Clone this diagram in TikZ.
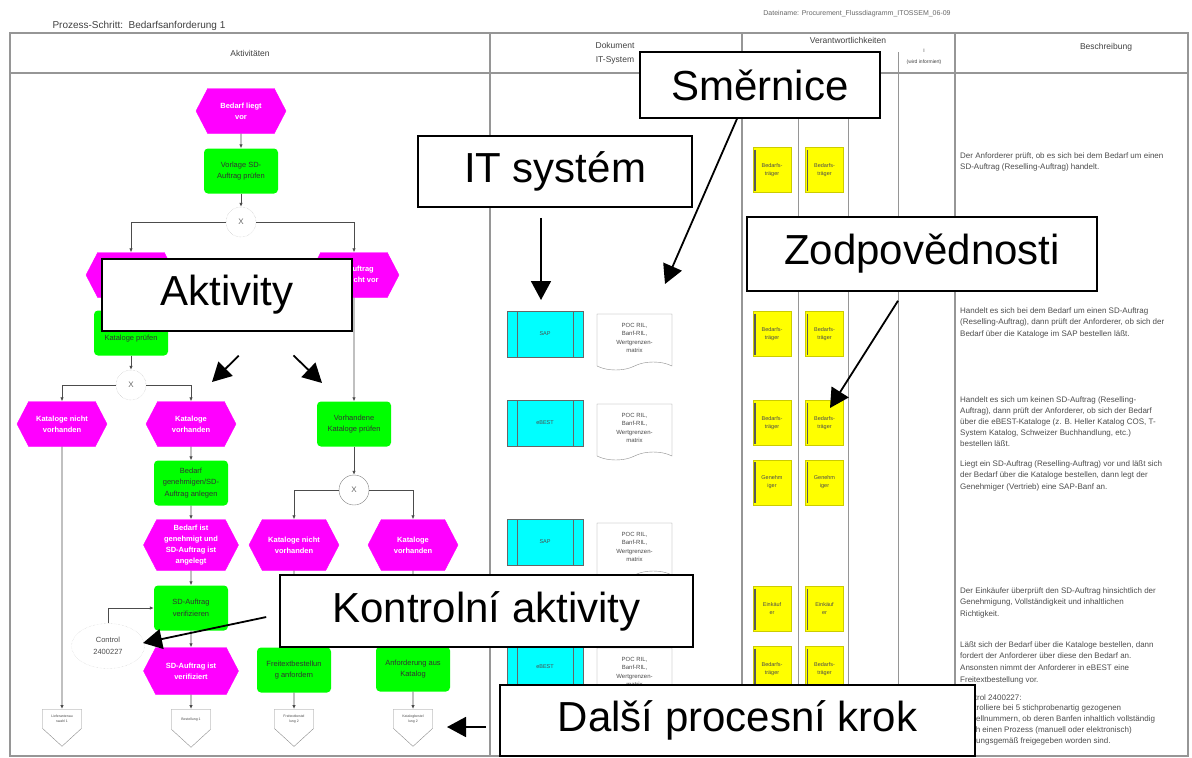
\documentclass[tikz,border=0pt]{standalone}
\usepackage{fontspec}
\setmainfont{Liberation Sans}
\usetikzlibrary{arrows.meta,shapes.symbols,shapes.geometric}

\definecolor{ereignisfarbe}{RGB}{255,0,255}
\definecolor{funktionsfarbe}{RGB}{0,255,0}
\definecolor{systemfarbe}{RGB}{0,255,255}
\definecolor{rollenfarbe}{RGB}{255,255,0}
\definecolor{rahmen}{RGB}{150,150,150}
\definecolor{schrift}{RGB}{50,50,50}

\tikzset{
  ereignis/.style={signal, signal to=east and west, signal pointer angle=125,
    fill=ereignisfarbe, draw=ereignisfarbe, text=white, align=center,
    font=\fontsize{7.5}{11}\selectfont\bfseries, minimum width=90pt,
    minimum height=45pt, inner sep=1pt},
  funktion/.style={rectangle, rounded corners=4pt, fill=funktionsfarbe,
    text=schrift, align=center, font=\fontsize{7.5}{11.5}\selectfont,
    minimum width=74pt, minimum height=45pt, inner sep=1pt},
  xor/.style={circle, draw=black!30, fill=white, minimum size=30pt,
    inner sep=0pt, text=black!60, font=\fontsize{8}{9}\selectfont},
  kontrolle/.style={ellipse, draw=black!20, densely dotted, minimum width=73pt,
    minimum height=45pt, inner sep=0pt, align=center, text=black!70,
    font=\fontsize{7.5}{11.5}\selectfont},
  ende/.style={signal, signal to=south, signal pointer angle=95, draw=black!45,
    fill=white, minimum width=39pt, minimum height=29pt, anchor=north,
    inner sep=0pt, align=center, text=black!70, font=\fontsize{3.5}{5}\selectfont},
  flow/.style={draw=black!70, line width=0.8pt, -{Latex[length=4pt,width=3.5pt]}},
  sysbox/.style={rectangle, fill=systemfarbe, draw=black!60, minimum width=76pt,
    minimum height=46pt, text=black!70, font=\fontsize{5.5}{7}\selectfont,
    path picture={
      \draw[black!60] ([xshift=10pt]path picture bounding box.north west)
        -- ([xshift=10pt]path picture bounding box.south west);
      \draw[black!60] ([xshift=-10pt]path picture bounding box.north east)
        -- ([xshift=-10pt]path picture bounding box.south east);}},
  dokument/.style={tape, tape bend top=none, tape bend bottom=in and out,
    tape bend height=8pt, draw=black!45, fill=white, minimum width=75pt,
    minimum height=56pt, inner sep=1pt, align=center, text=black!70,
    font=\fontsize{6}{8.5}\selectfont},
  rolle/.style={rectangle, fill=rollenfarbe, draw=rollenfarbe!80!black,
    line width=0.4pt, minimum width=38pt, minimum height=45pt, inner sep=1pt,
    align=center, text=black!70, font=\fontsize{5.5}{8}\selectfont,
    path picture={
      \draw[line width=1.2pt, black!65]
        ([xshift=2pt,yshift=-2pt]path picture bounding box.north west)
        -- ([xshift=2pt,yshift=2pt]path picture bounding box.south west);}},
  beschreibung/.style={anchor=north west, inner sep=0pt, align=left,
    text=black!70, font=\fontsize{8}{11.8}\selectfont},
  kopf/.style={text=black!75, font=\fontsize{8.5}{10}\selectfont},
  callout/.style={draw=black, line width=1.6pt, fill=white, inner sep=0pt,
    font=\fontsize{42}{48}\selectfont},
  callpfeil/.style={line width=1.8pt, -{Triangle[width=20pt,length=19pt]}}
}

\begin{document}
\begin{tikzpicture}[x=1pt,y=-1pt]
\useasboundingbox (0,0) rectangle (1192,758);

%Kopfzeile
\node[anchor=west, text=black!75, font=\fontsize{10}{12}\selectfont] (titel) at (49,26) {Prozess-Schritt:\ \ Bedarfsanforderung 1};
\node[text=black!60, font=\fontsize{7}{8}\selectfont] (datei) at (857,14) {Dateiname: Procurement\_Flussdiagramm\_ITOSSEM\_06-09};

%Tabelle
\draw[rahmen, line width=1.3pt] (10,33) rectangle (1188,756);
\draw[rahmen, line width=1.3pt] (10,73) -- (1188,73);
\draw[rahmen, line width=1.3pt] (490,33) -- (490,756);
\draw[rahmen, line width=1.3pt] (742,33) -- (742,756);
\draw[rahmen, line width=1.3pt] (955,33) -- (955,756);
\draw[rahmen, line width=1pt] (798,52) -- (798,756);
\draw[rahmen, line width=1pt] (848,52) -- (848,756);
\draw[rahmen, line width=1pt] (898,52) -- (898,756);

\node[kopf] (hakt) at (250,53) {Aktivitäten};
\node[kopf] (hdok) at (615,45) {Dokument};
\node[kopf] (hit) at (615,60) {IT-System};
\node[kopf] (hver) at (848,40) {Verantwortlichkeiten};
\node[kopf, font=\fontsize{5}{6}\selectfont] (hi) at (924,51) {I};
\node[kopf, font=\fontsize{5}{6}\selectfont] (hinf) at (924,62) {(wird informiert)};
\node[kopf] (hbes) at (1106,47) {Beschreibung};

%Ereignisse und Funktionen
\node[ereignis] (bedarf) at (241,111) {Bedarf liegt\\vor};
\node[funktion] (vorlage) at (241,171) {Vorlage SD-\\Auftrag prüfen};
\node[xor, densely dotted] (x1) at (241,222) {X};
\node[ereignis] (sdja) at (131,275) {SD-Auftrag\\liegt vor};
\node[ereignis] (sdnein) at (354,275) {SD-Auftrag\\liegt nicht vor};
\node[funktion] (katsap) at (131,333) {SAP-\\Kataloge prüfen};
\node[xor, densely dotted] (x2) at (131,385) {X};
\node[ereignis] (kn1) at (62,424) {Kataloge nicht\\vorhanden};
\node[ereignis] (kv1) at (191,424) {Kataloge\\vorhanden};
\node[funktion] (katebest) at (354,424) {Vorhandene\\Kataloge prüfen};
\node[funktion] (genehm) at (191,483) {Bedarf\\genehmigen/SD-\\Auftrag anlegen};
\node[ereignis, minimum width=95pt, minimum height=51pt] (angelegt) at (191,545) {Bedarf ist\\genehmigt und\\SD-Auftrag ist\\angelegt};
\node[xor, draw=black!50] (x3) at (354,490) {X};
\node[ereignis, minimum height=51pt] (kn2) at (294,545) {Kataloge nicht\\vorhanden};
\node[ereignis, minimum height=51pt] (kv2) at (413,545) {Kataloge\\vorhanden};
\node[funktion] (verif) at (191,608) {SD-Auftrag\\verifizieren};
\node[kontrolle] (ctrl) at (108,646) {Control\\2400227};
\node[ereignis, minimum width=95pt, minimum height=47pt] (verifiziert) at (191,671) {SD-Auftrag ist\\verifiziert};
\node[funktion] (freitext) at (294,670) {Freitextbestellun\\g anfordern};
\node[funktion] (anford) at (413,669) {Anforderung aus\\Katalog};

%Prozesswegweiser
\node[ende] (ende1) at (62,709) {Lieferantenau\\swahl 1};
\node[ende] (ende2) at (191,709) {Bestellung 1};
\node[ende] (ende3) at (294,709) {Freitextbestel\\lung 2};
\node[ende] (ende4) at (413,709) {Katalogbestel\\lung 2};

%Kontrollfluss
\draw[flow] (bedarf) -- (vorlage);
\draw[flow] (vorlage) -- (x1);
\draw[flow] (x1) -| (sdja);
\draw[flow] (x1) -| (sdnein);
\draw[flow] (sdja) -- (katsap);
\draw[flow] (katsap) -- (x2);
\draw[flow] (x2) -| (kn1);
\draw[flow] (x2) -| (kv1);
\draw[flow] (kn1) -- (ende1);
\draw[flow] (kv1) -- (genehm);
\draw[flow] (genehm) -- (angelegt);
\draw[flow] (angelegt) -- (verif);
\draw[flow] (verif) -- (verifiziert);
\draw[flow] (verifiziert) -- (ende2);
\draw[flow] (ctrl) |- (verif);
\draw[flow] (sdnein) -- (katebest);
\draw[flow] (katebest) -- (x3);
\draw[flow] (x3) -| (kn2);
\draw[flow] (x3) -| (kv2);
\draw[flow] (kn2) -- (freitext);
\draw[flow] (kv2) -- (anford);
\draw[flow] (freitext) -- (ende3);
\draw[flow] (anford) -- (ende4);

%Dokumente und IT-Systeme
\node[sysbox] (sap1) at (545,334) {SAP};
\node[dokument] (dok1) at (634.5,338) {POC RIL,\\Banf-RIL,\\Wertgrenzen-\\matrix};
\node[sysbox] (ebest1) at (545,423) {eBEST};
\node[dokument] (dok2) at (634.5,428) {POC RIL,\\Banf-RIL,\\Wertgrenzen-\\matrix};
\node[sysbox] (sap2) at (545,542) {SAP};
\node[dokument] (dok3) at (634.5,547) {POC RIL,\\Banf-RIL,\\Wertgrenzen-\\matrix};
\node[sysbox] (ebest2) at (545,667) {eBEST};
\node[dokument] (dok4) at (634.5,672) {POC RIL,\\Banf-RIL,\\Wertgrenzen-\\matrix};

%Verantwortlichkeiten
\node[rolle] (r1a) at (772,170) {Bedarfs-\\träger};
\node[rolle] (r1b) at (824.5,170) {Bedarfs-\\träger};
\node[rolle] (r2a) at (772,334) {Bedarfs-\\träger};
\node[rolle] (r2b) at (824.5,334) {Bedarfs-\\träger};
\node[rolle] (r3a) at (772,423) {Bedarfs-\\träger};
\node[rolle] (r3b) at (824.5,423) {Bedarfs-\\träger};
\node[rolle] (r4a) at (772,482.5) {Genehm\\iger};
\node[rolle] (r4b) at (824.5,482.5) {Genehm\\iger};
\node[rolle] (r5a) at (772,609) {Einkäuf\\er};
\node[rolle] (r5b) at (824.5,609) {Einkäuf\\er};
\node[rolle] (r6a) at (772,669) {Bedarfs-\\träger};
\node[rolle] (r6b) at (824.5,669) {Bedarfs-\\träger};

%Beschreibung
\node[beschreibung] (b1) at (960,152) {Der Anforderer prüft, ob es sich bei dem Bedarf um einen\\SD-Auftrag (Reselling-Auftrag) handelt.};
\node[beschreibung] (b2) at (960,307) {Handelt es sich bei dem Bedarf um einen SD-Auftrag\\(Reselling-Auftrag), dann prüft der Anforderer, ob sich der\\Bedarf über die Kataloge im SAP bestellen läßt.};
\node[beschreibung, font=\fontsize{8}{11}\selectfont] (b3) at (960,396) {Handelt es sich um keinen SD-Auftrag (Reselling-\\Auftrag), dann prüft der Anforderer, ob sich der Bedarf\\über die eBEST-Kataloge (z. B. Heller Katalog COS, T-\\System Katalog, Schweizer Buchhandlung, etc.)\\bestellen läßt.};
\node[beschreibung] (b4) at (960,460) {Liegt ein SD-Auftrag (Reselling-Auftrag) vor und läßt sich\\der Bedarf über die Kataloge bestellen, dann legt der\\Genehmiger (Vertrieb) eine SAP-Banf an.};
\node[beschreibung] (b5) at (960,587) {Der Einkäufer überprüft den SD-Auftrag hinsichtlich der\\Genehmigung, Vollständigkeit und inhaltlichen\\Richtigkeit.};
\node[beschreibung] (b6) at (960,641) {Läßt sich der Bedarf über die Kataloge bestellen, dann\\fordert der Anforderer über diese den Bedarf an.\\Ansonsten nimmt der Anforderer in eBEST eine\\Freitextbestellung vor.};
\node[beschreibung, font=\fontsize{8}{10.8}\selectfont] (b7) at (960,694) {Control 2400227:\\Kontrolliere bei 5 stichprobenartig gezogenen\\Bestellnummern, ob deren Banfen inhaltlich vollständig\\durch einen Prozess (manuell oder elektronisch)\\ordnungsgemäß freigegeben worden sind.};

%Hinweise
\node[callout, minimum width=240pt, minimum height=66pt] (smernice) at (760,85) {Směrnice};
\node[callout, minimum width=274pt, minimum height=71pt] (itsys) at (555,171.5) {IT systém};
\node[callout, minimum width=250pt, minimum height=72pt] (aktiv) at (227,295) {Aktivity};
\node[callout, minimum width=350pt, minimum height=74pt] (zodp) at (922,254) {Zodpovědnosti};
\node[callout, minimum width=413pt, minimum height=72pt] (kontrol) at (486.5,611) {Kontrolní aktivity};
\node[callout, minimum width=475pt, minimum height=71pt] (dalsi) at (737.5,720.5) {Další procesní krok};

\coordinate (smerniceZiel) at (665,284);
\coordinate (itZiel) at (541,300);
\coordinate (aktivL) at (212,382);
\coordinate (aktivR) at (322,383);
\coordinate (zodpZiel) at (830,408);
\coordinate (kontrolZiel) at (143,643);
\coordinate (dalsiZiel) at (447,727);

\draw[callpfeil] ([xshift=-23pt]smernice.south) -- (smerniceZiel);
\draw[callpfeil, shorten <=10pt] ([xshift=-14pt]itsys.south) -- (itZiel);
\draw[callpfeil, shorten <=34pt] ([xshift=36pt]aktiv.south) -- (aktivL);
\draw[callpfeil, shorten <=34pt] ([xshift=42pt]aktiv.south) -- (aktivR);
\draw[callpfeil, shorten <=10.6pt] ([xshift=-18.3pt]zodp.south) -- (zodpZiel);
\draw[callpfeil, shorten <=13.3pt] ([yshift=-3.3pt]kontrol.west) -- (kontrolZiel);
\draw[callpfeil, shorten <=13pt] ([yshift=-6.5pt]dalsi.west) -- (dalsiZiel);
\end{tikzpicture}
\end{document}
